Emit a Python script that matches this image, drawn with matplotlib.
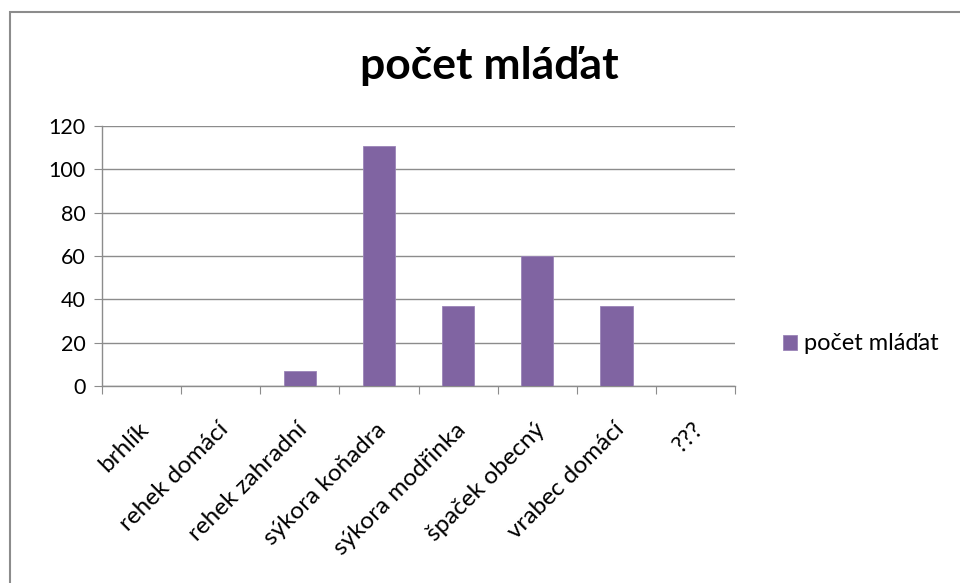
import numpy as np
import matplotlib.pyplot as plt
import matplotlib.transforms as mtrans
from matplotlib.patches import Rectangle

druhy = ["brhlík", "rehek domácí", "rehek zahradní", "sýkora koňadra",
         "sýkora modřinka", "špaček obecný", "vrabec domácí", "???"]
pocet = [0, 0, 7, 111, 37, 60, 37, 0]

plt.rcParams['font.family'] = ['Lato', 'DejaVu Sans']

fig = plt.figure(figsize=[9.6, 5.83], dpi=100)
# ramecek kolem grafu (vpravo a dole mimo obrazek)
fig.patches.append(Rectangle((10/960, -0.1), 1.1, 1.1 - 12/583, transform=fig.transFigure,
                             fill=False, edgecolor="#8c8c8c", lw=1.5))

ax = fig.add_axes([102/960, 197/583, 633/960, 260/583])
x = np.arange(len(druhy))
bars = ax.bar(x, pocet, width=0.41, color="#8064A2", edgecolor="#9a84b8", lw=0.6,
              label="počet mláďat", zorder=3)

ax.set_xlim(-0.5, len(druhy) - 0.5)
ax.set_ylim(0, 120)
ax.set_yticks(range(0, 121, 20))
ax.yaxis.grid(True, color="#8c8c8c", lw=1.0, zorder=0)

for s in ["top", "right"]:
    ax.spines[s].set_visible(False)
for s in ["left", "bottom"]:
    ax.spines[s].set_color("#8c8c8c")
    ax.spines[s].set_linewidth(1.0)

ax.set_xticks(np.arange(-0.5, len(druhy), 1.0), minor=False)
ax.set_xticklabels([])
ax.set_xticks(x, minor=True)
ax.set_xticklabels(druhy, minor=True, rotation=45, ha="right", va="center",
                   rotation_mode="anchor", fontsize=17.5)
ax.tick_params(axis="x", which="minor", length=0, pad=29)
ax.tick_params(axis="x", which="major", length=6, color="#8c8c8c", direction="out")
ax.tick_params(axis="y", length=6, color="#8c8c8c", labelsize=15.5, pad=6)
posun = mtrans.ScaledTranslation(4/100, 0, fig.dpi_scale_trans)
for lab in ax.get_xticklabels(minor=True):
    lab.set_transform(lab.get_transform() + posun)

fig.text(489/960, 1 - 66/583, "počet mláďat", ha="center", va="center",
         fontsize=32, fontweight="bold")

fig.legend(handles=[bars], loc="center left", bbox_to_anchor=(762/960, 1 - 344/583),
           frameon=False, fontsize=17, handlelength=0.6, handleheight=0.6,
           handletextpad=0.3)

plt.savefig("out.png", dpi=100)
